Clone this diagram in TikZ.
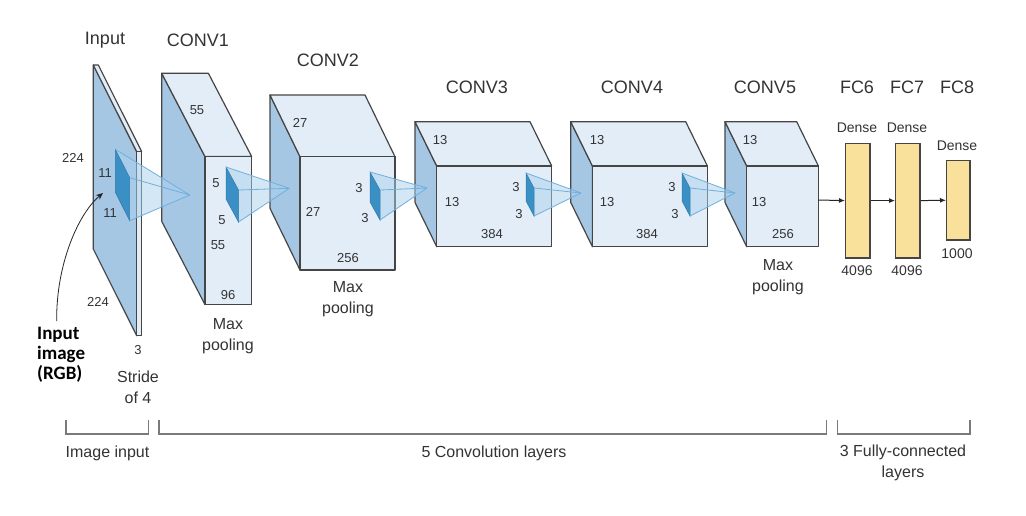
\documentclass[tikz,border=0pt]{standalone}
\usepackage{fontspec}
\setmainfont{Liberation Sans}
\newfontfamily\boldfam{Carlito}
\usetikzlibrary{arrows.meta}
\definecolor{edgecol}{HTML}{454545}
\definecolor{sidecol}{HTML}{A5C7E4}
\definecolor{facecol}{HTML}{E3EDF8}
\definecolor{kercol}{HTML}{3A90C5}
\definecolor{conecol}{HTML}{A9D0EC}
\definecolor{conelinecol}{HTML}{6FB0DC}
\definecolor{fccol}{HTML}{F9E09B}
\definecolor{txtcol}{HTML}{333333}
\definecolor{brkcol}{HTML}{7A7A7A}
\newcommand{\drawbox}[6]{%
  \draw[side] (#1,#2) -- ({#1+#3},{#2+#4}) -- ({#1+#3},{#2+#4+#6}) -- (#1,{#2+#6}) -- cycle;
  \draw[face] (#1,#2) -- ({#1+#5},#2) -- ({#1+#5+#3},{#2+#4}) -- ({#1+#3},{#2+#4}) -- cycle;
  \draw[face] ({#1+#3},{#2+#4}) rectangle ({#1+#3+#5},{#2+#4+#6});
}
% x1 y1 x2 y2 h ax ay
\newcommand{\drawkernel}[7]{%
  \fill[cone] (#1,#2) -- (#6,#7) -- (#3,{#4+#5}) -- (#3,#4) -- cycle;
  \draw[kern] (#1,#2) -- (#3,#4) -- (#3,{#4+#5}) -- (#1,{#2+#5}) -- cycle;
  \draw[coneline] (#1,#2) -- (#6,#7);
  \draw[coneline] (#3,#4) -- (#6,#7);
  \draw[coneline] (#3,{#4+#5}) -- (#6,#7);
}
\begin{document}
\begin{tikzpicture}[x=1pt,y=-1pt,
  edge/.style={draw=edgecol, line width=1.2pt, line join=round},
  side/.style={edge, fill=sidecol},
  face/.style={edge, fill=facecol},
  txt/.style={inner sep=0pt, text=txtcol},
  ttl/.style={txt, font=\fontsize{18}{20}\selectfont},
  num/.style={txt, font=\fontsize{13}{15}\selectfont},
  lbl/.style={txt, font=\fontsize{16}{21}\selectfont, align=center},
  dns/.style={txt, font=\fontsize{14}{16}\selectfont},
  fcbox/.style={draw=edgecol, line width=1.2pt, fill=fccol, inner sep=0pt, anchor=north west},
  kern/.style={fill=kercol, draw=kercol!85!black, line width=0.5pt},
  cone/.style={fill=conecol, fill opacity=0.5},
  coneline/.style={draw=conelinecol, line width=0.8pt},
  brk/.style={draw=brkcol, line width=1.3pt},
  arr/.style={-{Latex[length=6pt,width=5pt]}, line width=1pt, draw=black!85},
]
\fill[white] (0,0) rectangle (1026,516);
\useasboundingbox (0,0) rectangle (1026,516);

% ---- layer blocks ----
\drawbox{93.3}{65}{43.4}{86.7}{5}{184}
\drawbox{161.7}{73.3}{43.3}{83.3}{46.7}{148}
\drawbox{270}{95}{30}{61.7}{95}{113.3}
\drawbox{415}{121.7}{21.7}{44.3}{115}{80.7}
\drawbox{570.7}{121.7}{21.7}{44.3}{115}{80.7}
\drawbox{725}{121.7}{21.7}{44.3}{71.7}{80.7}

% ---- kernels and receptive cones ----
\drawkernel{115.3}{149.3}{129.7}{177.7}{43}{189.7}{195}
\drawkernel{226}{167}{238.5}{190}{32}{289.3}{188.3}
\drawkernel{370}{172}{380}{190}{30}{427}{188}
\drawkernel{526}{173}{534}{188}{28}{581}{193}
\drawkernel{682}{173}{690}{188}{28}{735}{193}

% ---- fully connected layers ----
\node[fcbox, minimum width=24.3pt, minimum height=114.6pt] (fc6) at (845,142.7) {};
\node[fcbox, minimum width=24.3pt, minimum height=114.6pt] (fc7) at (895,142.7) {};
\node[fcbox, minimum width=23.3pt, minimum height=79.3pt] (fc8) at (946,160) {};
\coordinate (c5r) at (818.3,200);
\draw[arr] (c5r) -- (fc6.west);
\draw[arr] (fc6.east) -- (fc7.west);
\draw[arr] (fc7.east) -- (fc8.west);

% ---- titles ----
\node[ttl] (tin) at (105,40) {Input};
\node[ttl] (tc1) at (198,40) {CONV1};
\node[ttl] (tc2) at (328,60) {CONV2};
\node[ttl] (tc3) at (477,87) {CONV3};
\node[ttl] (tc4) at (632,87) {CONV4};
\node[ttl] (tc5) at (765,87) {CONV5};
\node[ttl] (tf6) at (857,87) {FC6};
\node[ttl] (tf7) at (907,87) {FC7};
\node[ttl] (tf8) at (957,87) {FC8};

% ---- input labels ----
\node[num] (i224a) at (73,158) {224};
\node[num] (i11a) at (105,173) {11};
\node[num] (i11b) at (110,213) {11};
\node[num] (i224b) at (98,302) {224};
\node[num] (i3) at (138,350) {3};
\node[lbl] (istr) at (138,387) {Stride\\of 4};

% ---- conv1 labels ----
\node[num] (a55a) at (197,110) {55};
\node[num] (a5a) at (216,183) {5};
\node[num] (a5b) at (222,220) {5};
\node[num] (a55b) at (218,245) {55};
\node[num] (a96) at (228,295) {96};
\node[lbl] (amp) at (228,336) {Max\\pooling};

% ---- conv2 labels ----
\node[num] (b27a) at (300,123) {27};
\node[num] (b27b) at (313,212) {27};
\node[num] (b3a) at (359,188) {3};
\node[num] (b3b) at (365,218) {3};
\node[num] (b256) at (348,258) {256};
\node[lbl] (bmp) at (348,299) {Max\\pooling};

% ---- conv3 labels ----
\node[num] (c13a) at (440,140) {13};
\node[num] (c13b) at (452,202) {13};
\node[num] (c3a) at (516,187) {3};
\node[num] (c3b) at (519,214) {3};
\node[num] (c384) at (492,234) {384};

% ---- conv4 labels ----
\node[num] (d13a) at (597,140) {13};
\node[num] (d13b) at (607,202) {13};
\node[num] (d3a) at (672,187) {3};
\node[num] (d3b) at (675,214) {3};
\node[num] (d384) at (647,234) {384};

% ---- conv5 labels ----
\node[num] (e13a) at (750,140) {13};
\node[num] (e13b) at (759,202) {13};
\node[num] (e256) at (783,234) {256};
\node[lbl] (emp) at (778,277.5) {Max\\pooling};

% ---- fc labels ----
\node[dns] (f6d) at (857,128) {Dense};
\node[dns] (f7d) at (907,128) {Dense};
\node[dns] (f8d) at (957,146) {Dense};
\node[dns] (f6n) at (857,271) {4096};
\node[dns] (f7n) at (907,271) {4096};
\node[dns] (f8n) at (957,254) {1000};

% ---- input image annotation ----
\node[inner sep=0pt, text=black, align=left, anchor=west,
      font=\boldfam\bfseries\fontsize{19}{20}\selectfont] (inimg) at (37,355) {Input\\image\\(RGB)};
\coordinate (cs) at (56.7,321);
\coordinate (ct) at (103,193);
\draw[-{Stealth[length=7pt,width=6pt]}, line width=0.8pt, black!85] (cs) .. controls (56,265) and (78,214) .. (ct);

% ---- brackets ----
\draw[brk] (66,420) -- (66,434) -- (148.3,434) -- (148.3,420);
\draw[brk] (159,420) -- (159,434) -- (826.7,434) -- (826.7,420);
\draw[brk] (837.3,420) -- (837.3,434) -- (970,434) -- (970,420);
\node[lbl] (gin) at (107.5,453) {Image input};
\node[lbl] (gcv) at (494,453) {5 Convolution layers};
\node[lbl] (gfc) at (903,463) {3 Fully-connected\\layers};
\end{tikzpicture}
\end{document}
